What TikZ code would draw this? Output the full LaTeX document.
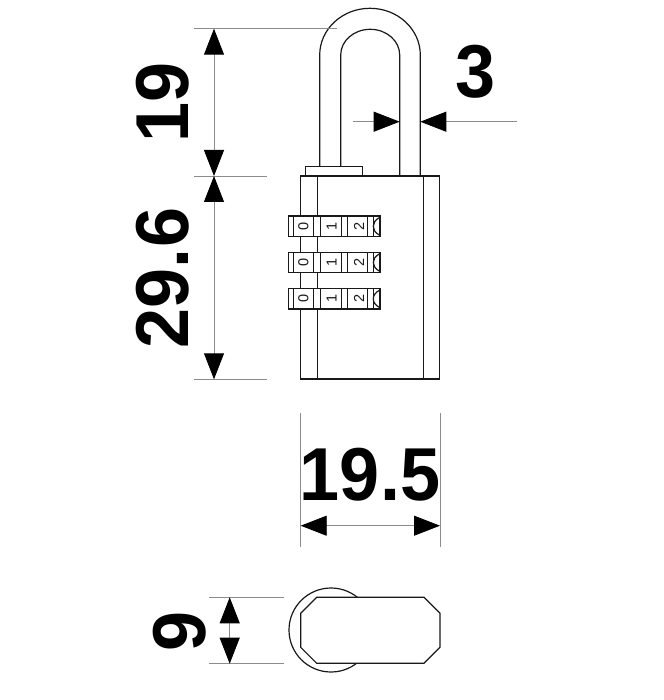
\documentclass[tikz,border=0pt]{standalone}
\usepackage{fontspec}
\setmainfont{Liberation Sans}
\usetikzlibrary{arrows.meta}
\tikzset{
  part/.style={draw=black!90,line width=1.2pt,fill=white},
  edge/.style={draw=black!90,line width=1.2pt},
  extline/.style={draw=black!45,line width=0.9pt},
  dimline/.style={draw=black!45,line width=0.9pt,arrows={Triangle[length=26pt,width=20pt,color=black]-Triangle[length=26pt,width=20pt,color=black]}},
  dimtip/.style={draw=black!45,line width=0.9pt,arrows={-Triangle[length=26pt,width=20pt,color=black]}},
  dimtext/.style={inner sep=0pt,font=\fontsize{75}{75}\selectfont\bfseries},
  wheeldigit/.style={inner sep=0pt,rotate=90,font=\fontsize{14.5}{14.5}\selectfont,text=black!90}
}
\newcommand{\narrowtxt}[1]{\scalebox{.96}[1]{#1}}
\newcommand{\wheel}[2]{%
  \draw[part] (288.3,#1) rectangle (380,#2);
  \foreach \xx in {293.3,313.7,320.3,341.3,347.3,367.7,373.3}{\draw[edge] (\xx,#1) -- (\xx,#2);}
  \draw[edge] (379.5,#1+1.5) .. controls (375,#1+4) and (373.3,#1+7) .. (373.3,{(#1+#2)/2}) .. controls (373.3,#2-7) and (375,#2-4) .. (379.5,#2-1.5);
}
\begin{document}
\begin{tikzpicture}[x=1pt,y=-1pt]
\useasboundingbox (0,0) rectangle (663,700);
\fill[white] (0,0) rectangle (663,700);
% shackle
\draw[edge] (319.7,166.3) -- (319.7,55) arc[start angle=180,end angle=360,x radius=50.3,y radius=46.7] -- (420.3,176);
\draw[edge] (340.7,166.3) -- (340.7,55) arc[start angle=180,end angle=360,x radius=29.5,y radius=25.7] -- (399.7,176);
% collar and body
\draw[part] (305.7,176) rectangle (362.3,166.3);
\draw[part] (300.7,176) rectangle (439.7,379);
\draw[edge] (317.3,176) -- (317.3,379);
\draw[edge] (423.3,176) -- (423.3,379);
% wheels
\wheel{216}{236.7}
\wheel{252.3}{272.7}
\wheel{288.7}{309}
\foreach \yy/\nm in {226.3/a,262.5/b,298.8/c}{
  \node[wheeldigit] (zero\nm) at (303.3,\yy) {0};
  \node[wheeldigit] (one\nm) at (331.7,\yy) {1};
  \node[wheeldigit] (two\nm) at (359,\yy) {2};
}
% height dimensions
\coordinate (h0) at (214,28.7);
\coordinate (h1) at (214,176);
\coordinate (h2) at (214,379.3);
\draw[extline] (194,28.7) -- (337,28.7);
\draw[extline] (194,176) -- (267,176);
\draw[extline] (194,379.3) -- (267,379.3);
\draw[dimline] (h0) -- (h1);
\draw[dimline] (h1) -- (h2);
\node[dimtext,rotate=90] (t19) at (163,102.5) {\narrowtxt{19}};
\node[dimtext,rotate=90] (t296) at (163,278) {\narrowtxt{29.6}};
% thickness dimension
\coordinate (s0) at (353.3,121.7);
\coordinate (s1) at (399.7,121.7);
\coordinate (s2) at (420.3,121.7);
\coordinate (s3) at (517.3,121.7);
\draw[dimtip] (s0) -- (s1);
\draw[dimtip] (s3) -- (s2);
\node[dimtext] (t3) at (475.5,71.5) {\narrowtxt{3}};
% width dimension
\draw[extline] (300.7,413) -- (300.7,547);
\draw[extline] (440,413) -- (440,547);
\coordinate (w0) at (300.7,525.7);
\coordinate (w1) at (440,525.7);
\draw[dimline] (w0) -- (w1);
\node[dimtext] (t195) at (370,475) {\narrowtxt{19.5}};
% bottom view
\draw[edge] (331,630) circle[radius=42];
\draw[part] (316.7,597.3) -- (424,597.3) -- (440,613.3) -- (440,647.3) -- (424,663.3) -- (316.7,663.3) -- (300.7,647.3) -- (300.7,613.3) -- cycle;
\draw[extline] (209.3,597.3) -- (284,597.3);
\draw[extline] (209.3,663.7) -- (284,663.7);
\coordinate (d0) at (229.7,597.3);
\coordinate (d1) at (229.7,663.7);
\draw[dimline] (d0) -- (d1);
\node[dimtext,rotate=90] (t9) at (179.5,631) {\narrowtxt{9}};
\end{tikzpicture}
\end{document}
